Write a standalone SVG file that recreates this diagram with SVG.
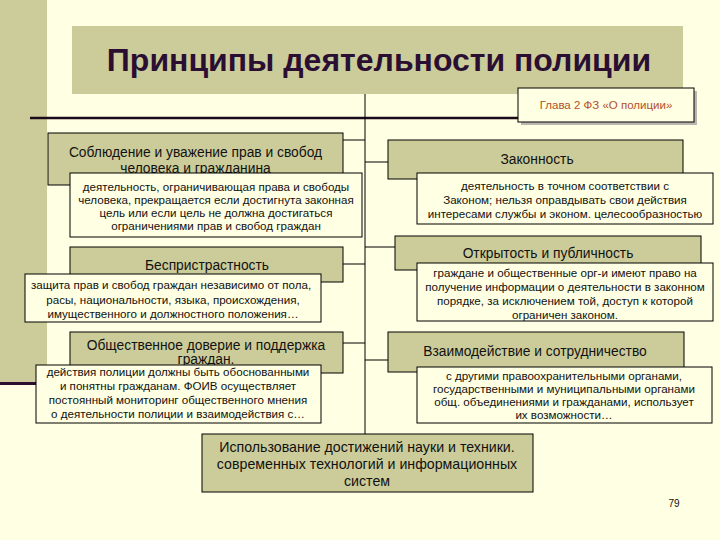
<svg xmlns="http://www.w3.org/2000/svg" width="720" height="540" viewBox="0 0 720 540">
<style>
.t{fill:#CCCC9A;stroke:#000;stroke-width:1}
.d{fill:#FFFFE3;stroke:#000;stroke-width:1}
.tt{font-family:"Liberation Sans",Arial,sans-serif;font-size:13.8px;fill:#111;text-anchor:middle}
.bt{font-family:"Liberation Sans",Arial,sans-serif;font-size:14.2px;fill:#111;text-anchor:middle}
.dt{font-family:"Liberation Sans",Arial,sans-serif;font-size:11.6px;fill:#111;text-anchor:middle}
.c{stroke:#000;stroke-width:1;fill:none}
</style>
<rect width="720" height="540" fill="#FFFFE3"/>
<rect x="0" y="0" width="47" height="382" fill="#CCCC9A"/>
<rect x="0" y="382" width="100" height="3" fill="#2B0F2E"/>
<g id="title">
<rect x="72" y="26" width="611" height="68" fill="#CCCC9A"/>
<text x="379" y="71" font-family="Liberation Sans,Arial,sans-serif" font-size="32" font-weight="bold" fill="#2A0F33" text-anchor="middle">Принципы деятельности полиции</text>
</g>
<g id="connectors">
<line x1="30" y1="118" x2="518" y2="118" stroke="#1A0A1A" stroke-width="2.5"/>
<line class="c" x1="365" y1="94" x2="365" y2="434"/>
<line class="c" x1="343" y1="140" x2="365" y2="140"/>
<line class="c" x1="343" y1="264" x2="365" y2="264"/>
<line class="c" x1="343" y1="343" x2="365" y2="343"/>
<line class="c" x1="365" y1="162" x2="388" y2="162"/>
<line class="c" x1="365" y1="247" x2="395" y2="247"/>
<line class="c" x1="365" y1="360" x2="388" y2="360"/>
</g>
<g id="glava">
<rect x="521" y="91" width="176" height="34" fill="#B8B8B0"/>
<rect x="518" y="88" width="176" height="34" fill="#FFFFE3" stroke="#000" stroke-width="1"/>
<text x="606" y="109" font-family="Liberation Sans,Arial,sans-serif" font-size="11.5" fill="#B5502A" text-anchor="middle">Глава 2 ФЗ «О полиции»</text>
</g>
<g id="n1">
<rect class="t" x="48" y="133" width="295" height="52"/>
<text class="tt" x="195.5" y="157">Соблюдение и уважение прав и свобод</text>
<text class="tt" x="195.5" y="172.5">человека и гражданина</text>
<rect class="d" x="70" y="173" width="292" height="64"/>
<text class="dt" x="216" y="190.5">деятельность, ограничивающая права и свободы</text>
<text class="dt" x="216" y="203.5">человека, прекращается если достигнута законная</text>
<text class="dt" x="216" y="216.5">цель или если цель не должна достигаться</text>
<text class="dt" x="216" y="229.5">ограничениями прав и свобод граждан</text>
</g>
<g id="n2">
<rect class="t" x="388" y="140" width="295" height="39"/>
<text class="tt" x="537" y="164">Законность</text>
<rect class="d" x="417" y="173" width="296" height="51"/>
<text class="dt" x="565" y="190">деятельность в  точном соответствии с</text>
<text class="dt" x="565" y="204">Законом; нельзя оправдывать свои действия</text>
<text class="dt" x="565" y="218">интересами службы и эконом. целесообразностью</text>
</g>
<g id="n3">
<rect class="t" x="70" y="247" width="273" height="35"/>
<text class="tt" x="207" y="270">Беспристрастность</text>
<rect class="d" x="25" y="274" width="296" height="48"/>
<text class="dt" x="171" y="289">защита прав и свобод граждан независимо от пола,</text>
<text class="dt" x="173" y="303.5">расы, национальности, языка, происхождения,</text>
<text class="dt" x="173" y="317.5">имущественного и должностного положения…</text>
</g>
<g id="n4">
<rect class="t" x="395" y="236" width="306" height="34"/>
<text class="tt" x="548" y="258">Открытость и публичность</text>
<rect class="d" x="417" y="263" width="296" height="58"/>
<text class="dt" x="565" y="277">граждане и общественные орг-и имеют право на</text>
<text class="dt" x="565" y="291">получение информации о деятельности в законном</text>
<text class="dt" x="565" y="305">порядке, за исключением той, доступ к которой</text>
<text class="dt" x="565" y="319">ограничен законом.</text>
</g>
<g id="n5">
<rect class="t" x="70" y="332" width="273" height="41"/>
<text class="tt" x="206" y="350">Общественное доверие и поддержка</text>
<text class="tt" x="206" y="364">граждан.</text>
<rect class="d" x="36" y="365" width="285" height="58"/>
<text class="dt" x="178" y="376">действия полиции должны быть обоснованными</text>
<text class="dt" x="178" y="390">и понятны гражданам. ФОИВ осуществляет</text>
<text class="dt" x="178" y="404">постоянный мониторинг общественного мнения</text>
<text class="dt" x="178" y="417.5">о деятельности полиции и взаимодействия с…</text>
</g>
<g id="n6">
<rect class="t" x="388" y="332" width="296" height="40"/>
<text class="tt" x="535" y="356">Взаимодействие и сотрудничество</text>
<rect class="d" x="417" y="367" width="295" height="56"/>
<text class="dt" x="564" y="380">с другими правоохранительными органами,</text>
<text class="dt" x="564" y="393">государственными и муниципальными органами</text>
<text class="dt" x="564" y="406">общ. объединениями и гражданами, использует</text>
<text class="dt" x="564" y="419">их возможности…</text>
</g>
<g id="n7">
<rect class="t" x="202" y="434" width="331" height="58"/>
<text class="bt" x="367" y="452">Использование достижений науки и техники.</text>
<text class="bt" x="367" y="469">современных технологий и информационных</text>
<text class="bt" x="367" y="486">систем</text>
</g>
<text x="674" y="507" font-family="Liberation Sans,Arial,sans-serif" font-size="10" fill="#111" text-anchor="middle">79</text>
</svg>
